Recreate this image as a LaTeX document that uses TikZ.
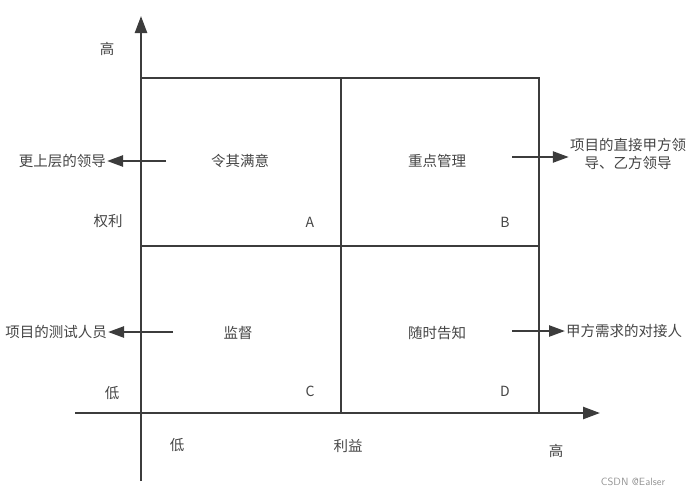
\documentclass[tikz,border=0pt]{standalone}
\usepackage{fontspec}
\setmainfont{Noto Sans CJK SC}
\usetikzlibrary{arrows.meta}
\definecolor{linec}{HTML}{3C3C3C}
\definecolor{textc}{HTML}{454545}
\tikzset{
  axis/.style={draw=linec, line width=2.4pt, -{Triangle[length=17pt,width=12pt]}},
  grid/.style={draw=linec, line width=2.4pt},
  pointer/.style={draw=linec, line width=2.4pt, -{Triangle[length=16pt,width=11pt]}},
  lbl/.style={text=textc, font=\fontsize{14.5}{17.5}\selectfont, inner sep=1pt},
  corner/.style={text=textc, font=\fontsize{14}{16}\selectfont, inner sep=1pt},
}
\begin{document}
\begin{tikzpicture}[x=1pt,y=-1pt]
\useasboundingbox (0,0) rectangle (687,496);
% axes
\coordinate (yb) at (141,481);
\coordinate (yt) at (141,16);
\coordinate (xl) at (75,413);
\coordinate (xr) at (600,413);
\draw[axis] (yb) -- (yt);
\draw[axis] (xl) -- (xr);
% grid
\coordinate (tl) at (141,78);
\coordinate (tr) at (539,78);
\coordinate (br) at (539,413);
\coordinate (tm) at (341,78);
\coordinate (bm) at (341,413);
\coordinate (ml) at (141,246);
\coordinate (mr) at (539,246);
\draw[grid] (tl) -- (tr) -- (br);
\draw[grid] (tm) -- (bm);
\draw[grid] (ml) -- (mr);
% quadrant labels
\node[lbl] (qa) at (240,161) {令其满意};
\node[lbl] (qb) at (437,161) {重点管理};
\node[lbl] (qc) at (238,333) {监督};
\node[lbl] (qd) at (437,333) {随时告知};
\node[corner] (ca) at (310,222) {A};
\node[corner] (cb) at (505,222) {B};
\node[corner] (cc) at (310,391) {C};
\node[corner] (cd) at (505,391) {D};
% axis labels
\node[lbl] (yh) at (107,49) {高};
\node[lbl] (yq) at (108,221) {权利};
\node[lbl] (yl) at (112,393) {低};
\node[lbl] (xlo) at (177,445) {低};
\node[lbl] (xm) at (348,446) {利益};
\node[lbl] (xh) at (556,451) {高};
% side labels and pointers
\node[lbl, anchor=east] (s1) at (107,161) {更上层的领导};
\node[lbl, anchor=east] (s3) at (108,332) {项目的测试人员};
\node[lbl, align=center] (s2) at (628,154) {项目的直接甲方领\\导、乙方领导};
\node[lbl, anchor=west] (s4) at (565,331) {甲方需求的对接人};
\coordinate (p1) at (166,161);
\coordinate (p3) at (173,332);
\coordinate (p2) at (512,157);
\coordinate (p4) at (512,331);
\draw[pointer] (p1) -- (s1.east);
\draw[pointer] (p3) -- (s3.east);
\draw[pointer] (p2) -- (s2.west |- p2);
\draw[pointer] (p4) -- (s4.west);
% watermark
\node[text=gray!85, font=\fontsize{10.5}{12}\selectfont\sffamily, inner sep=0pt] (wm) at (633,482) {CSDN @Ealser};
\end{tikzpicture}
\end{document}
